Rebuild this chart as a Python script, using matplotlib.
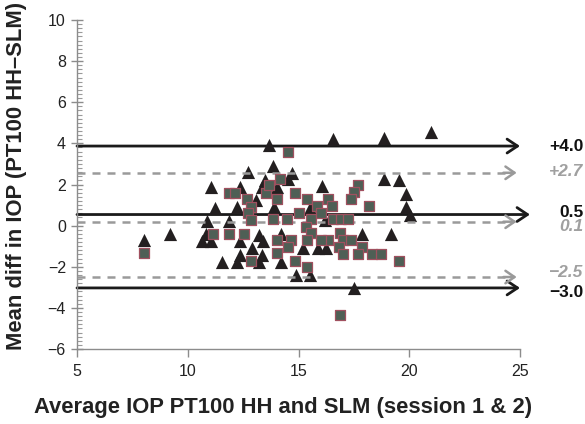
import matplotlib
matplotlib.use("Agg")
import matplotlib.pyplot as plt
from matplotlib.ticker import MultipleLocator

plt.rcParams['font.family'] = ['Liberation Sans', 'DejaVu Sans']

# Series 1: black triangles
tri_x = [8.04, 9.21, 10.86, 10.83, 10.65, 11.06, 11.03, 11.24, 11.88, 11.54,
         12.22, 12.36, 12.36, 12.38, 12.22, 12.70, 13.06, 13.20, 12.89, 13.39,
         13.34, 13.20, 13.51, 13.33, 13.65, 13.86, 14.05, 13.90, 14.19, 14.21,
         14.69, 14.54, 14.89, 15.20, 15.52, 15.54, 15.88, 16.05, 16.19, 16.54,
         16.24, 18.85, 21.00, 18.86, 19.53, 19.87, 19.87, 20.02, 17.86, 19.19,
         17.51]
tri_y = [-0.72, -0.41, 0.22, -0.41, -0.75, -0.75, 1.89, 0.84, 0.22, -1.75,
         -1.76, -1.41, -0.75, 1.88, 0.89, 2.61, 1.23, -0.46, -1.10, -0.77,
         -1.43, -1.76, 2.22, 1.88, 3.90, 2.90, 1.89, 0.89, -0.43, -1.76,
         2.58, 2.25, -2.40, -1.10, 0.84, -2.40, -1.10, 1.91, 0.25, 4.20,
         -1.10, 4.25, 4.57, 2.25, 2.23, 1.54, 0.90, 0.54, -0.41, -0.41,
         -3.04]

# Series 2: grey squares
sq_x = [8.04, 11.16, 11.87, 12.52, 11.87, 12.14, 12.69, 12.85, 12.74, 12.85,
        12.85, 13.52, 13.69, 14.18, 14.05, 13.83, 14.50, 14.51, 14.86, 15.37,
        15.01, 14.03, 14.65, 14.53, 14.02, 14.84, 15.40, 15.55, 15.35, 15.55,
        15.37, 15.83, 16.01, 16.35, 16.35, 16.00, 16.52, 17.69, 17.51, 17.35,
        18.18, 16.57, 16.90, 17.25, 16.86, 16.99, 17.35, 16.84, 17.85, 17.02,
        17.69, 18.34, 18.72, 19.54, 16.86]
sq_y = [-1.35, -0.41, -0.41, -0.41, 1.60, 1.57, 1.28, 0.93, 0.63, 0.27,
        -1.72, 1.61, 1.96, 2.27, 1.28, 0.31, 0.30, 3.59, 1.60, 1.28,
        0.63, -0.70, -0.70, -1.03, -1.35, -1.70, -2.01, 0.30, -0.07, -0.37,
        -0.69, 0.95, 0.59, 1.28, -0.70, -0.70, 0.95, 1.97, 1.63, 1.28,
        0.95, 0.30, 0.30, 0.30, -0.37, -0.70, -0.70, -1.04, -1.04, -1.38,
        -1.38, -1.38, -1.38, -1.72, -4.35]

# Reference lines (mean and limits of agreement)
solid_y = [3.87, 0.54, -3.03]
solid_end = [25.0, 25.45, 25.0]
dashed_y = [2.57, 0.19, -2.50]
dashed_end = [24.85, 24.85, 24.85]
solid_labels = ['+4.0', '0.5', '\u22123.0']
solid_label_y = [3.83, 0.65, -3.25]
dashed_labels = ['+2.7', '0.1', '\u22122.5']
dashed_label_y = [2.62, -0.05, -2.28]

x_ticks = [5, 10, 15, 20, 25]
y_ticks = [-6, -4, -2, 0, 2, 4, 6, 8, 10]

fig = plt.figure(figsize=(5.85, 4.24), dpi=100)
ax = fig.add_axes([77/585, 75/424, 443/585, 329/424])
ax.set_xlim(5, 25)
ax.set_ylim(-6, 10)

ax.scatter(tri_x, tri_y, marker='^', s=90, color='#231f20', linewidths=0, zorder=3)

for y, xe in zip(solid_y, solid_end):
    ax.annotate('', xy=(xe, y), xytext=(5, y), xycoords='data',
                arrowprops=dict(arrowstyle='->,head_length=0.75,head_width=0.5',
                                lw=2.0, color='#1a1a1a', shrinkA=0, shrinkB=0),
                annotation_clip=False, zorder=2.5)
for y, xe in zip(dashed_y, dashed_end):
    ax.plot([5, xe - 0.15], [y, y], color='#9a9a9a', lw=1.8,
            dashes=(3.2, 2.8), zorder=3.5, solid_capstyle='butt')
    ax.annotate('', xy=(xe, y), xytext=(xe - 0.6, y), xycoords='data',
                arrowprops=dict(arrowstyle='->,head_length=0.65,head_width=0.45',
                                lw=1.8, color='#9a9a9a', shrinkA=0, shrinkB=0),
                annotation_clip=False, zorder=3.5)

ax.scatter(sq_x, sq_y, marker='s', s=52, color='#4e5f55', edgecolors='#a0505f',
           linewidths=0.9, zorder=4)

for lab, y in zip(solid_labels, solid_label_y):
    ax.text(27.85, y, lab, ha='right', va='center', fontsize=12.5,
            fontweight='bold', color='#111111', clip_on=False)
for lab, y in zip(dashed_labels, dashed_label_y):
    ax.text(27.85, y, lab, ha='right', va='center', fontsize=12.5,
            fontweight='bold', fontstyle='italic', color='#a0a0a0', clip_on=False)

for s in ['top', 'right']:
    ax.spines[s].set_visible(False)
for s in ['left', 'bottom']:
    ax.spines[s].set_color('#8c8c8c')
    ax.spines[s].set_linewidth(1.0)

ax.set_xticks(x_ticks)
ax.set_yticks(y_ticks)
ax.set_yticklabels([str(v).replace('-', '\u2212') for v in y_ticks])
ax.yaxis.set_minor_locator(MultipleLocator(0.2))
ax.tick_params(axis='x', direction='out', length=6, width=1, color='#8c8c8c',
               labelsize=11.5, labelcolor='#222222', pad=5)
ax.tick_params(axis='y', which='major', direction='inout', length=8, width=1,
               color='#8c8c8c', labelsize=11.5, labelcolor='#222222', pad=4)
ax.tick_params(axis='y', which='minor', direction='in', length=3.5, width=0.8,
               color='#9a9a9a')

fig.text(283.5/585, 16/424, 'Average IOP PT100 HH and SLM (session 1 & 2)',
         ha='center', va='center', fontsize=15.8, fontweight='bold', color='#222222')
fig.text(17/585, 1 - 176/424, 'Mean diff in IOP (PT100 HH\u2013SLM)',
         ha='center', va='center', rotation=90, fontsize=15.8, fontweight='bold',
         color='#222222')

fig.savefig('out.png', dpi=100)
